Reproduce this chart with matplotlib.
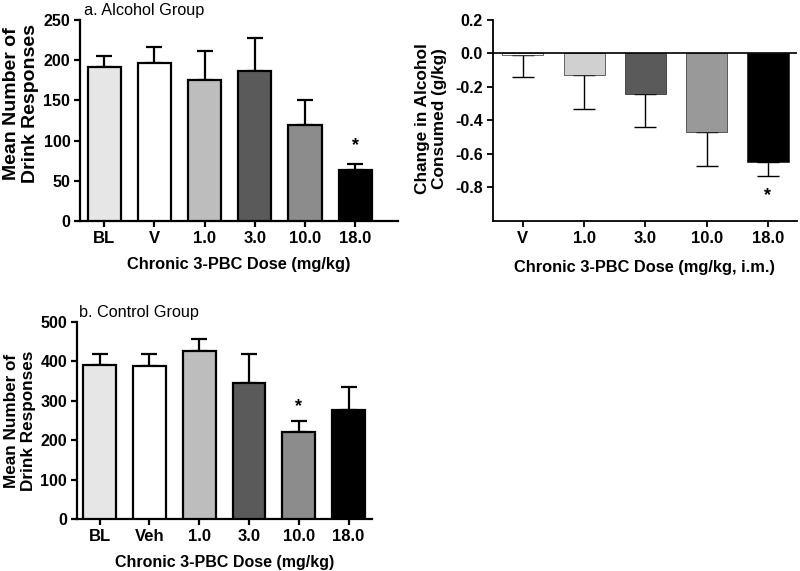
import matplotlib.pyplot as plt

plt.rcParams["font.family"] = ["Liberation Sans", "DejaVu Sans"]

# a. Alcohol group
a_labels = ["BL", "V", "1.0", "3.0", "10.0", "18.0"]
a_means = [191, 196, 175, 186, 119, 64]
a_sem = [14, 20, 37, 42, 31, 7]
a_colors = ["#e6e6e6", "#ffffff", "#bdbdbd", "#5a5a5a", "#8c8c8c", "#000000"]

# change in alcohol consumed
c_labels = ["V", "1.0", "3.0", "10.0", "18.0"]
c_means = [-0.01, -0.13, -0.24, -0.47, -0.65]
c_sem = [0.13, 0.20, 0.20, 0.20, 0.08]
c_colors = ["#ffffff", "#d0d0d0", "#5a5a5a", "#999999", "#000000"]

# b. Control group
b_labels = ["BL", "Veh", "1.0", "3.0", "10.0", "18.0"]
b_means = [392, 388, 427, 345, 222, 277]
b_sem = [26, 30, 30, 73, 28, 59]
b_colors = ["#e6e6e6", "#ffffff", "#bdbdbd", "#5a5a5a", "#8c8c8c", "#000000"]


def style(ax, lw=1.6):
    ax.spines["top"].set_visible(False)
    ax.spines["right"].set_visible(False)
    ax.spines["left"].set_linewidth(lw)
    ax.spines["bottom"].set_linewidth(lw)
    ax.tick_params(width=lw, length=4, direction="out", pad=3)
    for t in ax.get_yticklabels():
        t.set_fontsize(11.5)
        t.set_fontweight("bold")
    for t in ax.get_xticklabels():
        t.set_fontsize(12)
        t.set_fontweight("bold")


fig = plt.figure(figsize=(8, 5.71), dpi=100)

# panel a
ax1 = fig.add_axes([0.1, 0.613, 0.3975, 0.352])
x = range(len(a_labels))
ax1.bar(x, a_means, width=0.66, color=a_colors, edgecolor="black", linewidth=1.6, zorder=3)
ax1.errorbar(x, a_means, yerr=[[0] * 6, a_sem], fmt="none", ecolor="black",
             elinewidth=1.6, capsize=6, capthick=1.6, zorder=2)
ax1.set_xlim(-0.48, 5.85)
ax1.set_ylim(0, 250)
ax1.set_yticks([0, 50, 100, 150, 200, 250])
ax1.set_xticks(list(x))
ax1.set_xticklabels(a_labels)
style(ax1)
ax1.set_ylabel("Mean Number of\nDrink Responses", fontsize=14, fontweight="bold",
               labelpad=3, linespacing=1.2)
ax1.yaxis.label.set_y(0.585)
ax1.set_xlabel("Chronic 3-PBC Dose (mg/kg)", fontsize=11.8, fontweight="bold", labelpad=8)
ax1.text(5, 94, "*", ha="center", va="center", fontsize=13, fontweight="bold")
ax1.text(0.012, 1.01, "a. Alcohol Group", transform=ax1.transAxes, fontsize=11.7,
         ha="left", va="bottom")

# panel c (change)
ax2 = fig.add_axes([0.616, 0.613, 0.38, 0.352])
xc = range(len(c_labels))
ax2.bar(xc, c_means, width=0.67, color=c_colors, edgecolor="black", linewidth=0.4, zorder=3)
ax2.errorbar(xc, c_means, yerr=[c_sem, [0] * 5], fmt="none", ecolor="black",
             elinewidth=1.0, capsize=8, capthick=1.0, zorder=2)
ax2.axhline(0, color="black", linewidth=1.2, zorder=4)
ax2.set_xlim(-0.49, 4.47)
ax2.set_ylim(-1.0, 0.2)
ax2.set_yticks([-0.8, -0.6, -0.4, -0.2, 0.0, 0.2])
ax2.set_yticklabels(["-0.8", "-0.6", "-0.4", "-0.2", "0.0", "0.2"])
ax2.set_xticks(list(xc))
ax2.set_xticklabels(c_labels)
style(ax2, lw=1.3)
ax2.set_ylabel("Change in Alcohol\nConsumed (g/kg)", fontsize=12.4, fontweight="bold",
               labelpad=6, linespacing=1.2)
ax2.yaxis.label.set_y(0.51)
ax2.set_xlabel("Chronic 3-PBC Dose (mg/kg, i.m.)", fontsize=11.8, fontweight="bold", labelpad=10)
ax2.text(4, -0.85, "*", ha="center", va="center", fontsize=13, fontweight="bold")

# panel b
ax3 = fig.add_axes([0.096, 0.091, 0.369, 0.345])
xb = range(len(b_labels))
ax3.bar(xb, b_means, width=0.66, color=b_colors, edgecolor="black", linewidth=1.6, zorder=3)
ax3.errorbar(xb, b_means, yerr=[[0] * 6, b_sem], fmt="none", ecolor="black",
             elinewidth=1.6, capsize=6, capthick=1.6, zorder=2)
ax3.set_xlim(-0.46, 5.47)
ax3.set_ylim(0, 500)
ax3.set_yticks([0, 100, 200, 300, 400, 500])
ax3.set_xticks(list(xb))
ax3.set_xticklabels(b_labels)
style(ax3)
ax3.set_ylabel("Mean Number of\nDrink Responses", fontsize=12.3, fontweight="bold",
               labelpad=3, linespacing=1.2)
ax3.set_xlabel("Chronic 3-PBC Dose (mg/kg)", fontsize=11.5, fontweight="bold", labelpad=8)
ax3.text(4, 285, "*", ha="center", va="center", fontsize=13, fontweight="bold")
ax3.text(0.008, 1.01, "b. Control Group", transform=ax3.transAxes, fontsize=11.7,
         ha="left", va="bottom")

fig.savefig("out.png", dpi=100)
